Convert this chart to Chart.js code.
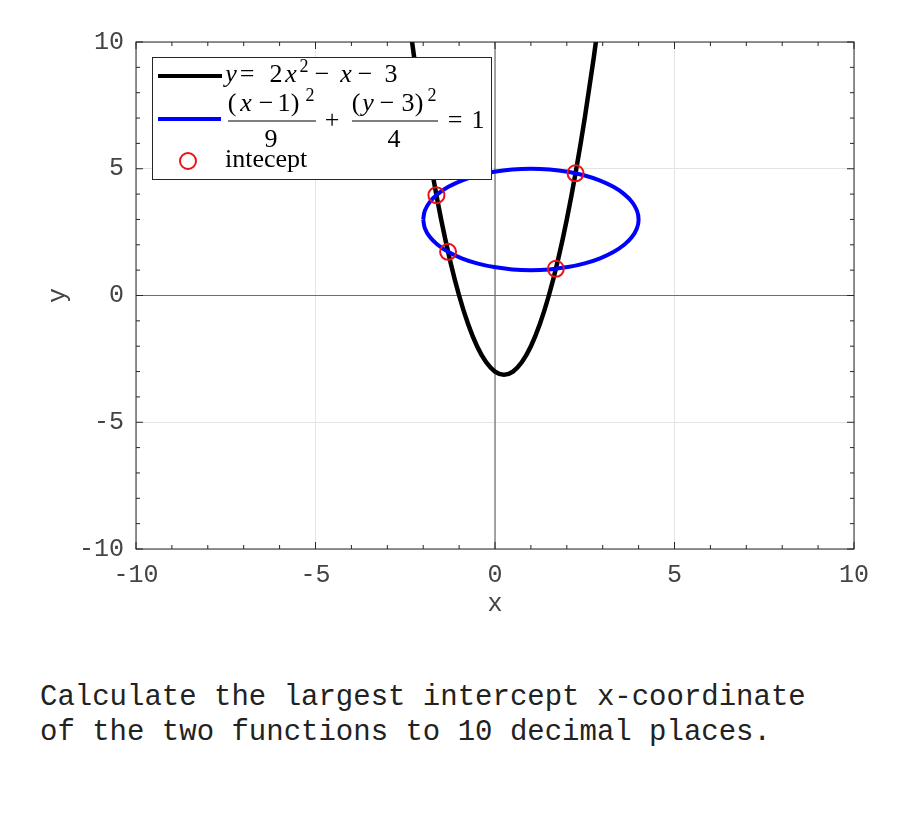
<!DOCTYPE html>
<html><head><meta charset="utf-8">
<script src="https://cdn.jsdelivr.net/npm/chart.js@4/dist/chart.umd.min.js"></script>
<style>
html,body{margin:0;padding:0;background:#fff;}
#wrap{position:relative;width:900px;height:825px;overflow:hidden;}
#c{position:absolute;left:0;top:0;}
#note{position:absolute;left:40px;top:680px;font:29px 'Liberation Mono','Courier New',monospace;line-height:35px;white-space:pre;color:#222;}
</style></head><body>
<div id="wrap"><canvas id="c" width="900" height="640"></canvas>
<div id="note">Calculate the largest intercept x-coordinate
of the two functions to 10 decimal places.</div></div>
<script>
// ---- data ----
const parabolaX = [-2.5,-2.25,-2,-1.75,-1.5,-1.25,-1,-0.75,-0.5,-0.25,0,0.25,0.5,0.75,1,1.25,1.5,1.75,2,2.25,2.5,2.75,3];
const parabolaY = [12,9.375,7,4.875,3,1.375,0,-1.125,-2,-2.625,-3,-3.125,-3,-2.625,-2,-1.125,0,1.375,3,4.875,7,9.375,12];
const ellipseX = [-2,-1.954,-1.819,-1.598,-1.298,-0.928,-0.5,-0.026,0.479,1,1.521,2.026,2.5,2.928,3.298,3.598,3.819,3.954,4,3.954,3.819,3.598,3.298,2.928,2.5,2.026,1.521,1,0.479,-0.026,-0.5,-0.928,-1.298,-1.598,-1.819,-1.954,-2];
const ellipseY = [3,2.653,2.316,2,1.714,1.468,1.268,1.121,1.03,1,1.03,1.121,1.268,1.468,1.714,2,2.316,2.653,3,3.347,3.684,4,4.286,4.532,4.732,4.879,4.97,5,4.97,4.879,4.732,4.532,4.286,4,3.684,3.347,3];
const interceptX = [-1.632,-1.307,1.695,2.243];
const interceptY = [3.959,1.721,1.053,4.82];
const xTickValues = [-10,-5,0,5,10];
const xTickLabels = ['-10','-5','0','5','10'];
const yTickValues = [-10,-5,0,5,10];
const yTickLabels = ['-10','-5','0','5','10'];
const minorValues = [-10,-9,-8,-7,-6,-5,-4,-3,-2,-1,0,1,2,3,4,5,6,7,8,9,10];
const seriesNames = ['intecept','ellipse','parabola'];

const zip = (xs, ys) => xs.map((x,i)=>({x:x, y:ys[i]}));
const MONO = "'Liberation Mono','Courier New',monospace";

const framePlugin = {
  id:'frame',
  beforeDatasetsDraw(chart){
    const {ctx, chartArea:a, scales:{x,y}} = chart;
    ctx.save();
    ctx.strokeStyle = '#6e6e6e'; ctx.lineWidth = 1.2;
    const px = x.getPixelForValue(0), py = y.getPixelForValue(0);
    ctx.beginPath(); ctx.moveTo(px, a.top); ctx.lineTo(px, a.bottom); ctx.stroke();
    ctx.beginPath(); ctx.moveTo(a.left, py); ctx.lineTo(a.right, py); ctx.stroke();
    ctx.restore();
  },
  afterDatasetsDraw(chart){
    const {ctx, chartArea:a, scales:{x,y}} = chart;
    ctx.save();
    ctx.strokeStyle = '#262626'; ctx.lineWidth = 1;
    minorValues.forEach(v=>{
      const len = (v % 5 === 0) ? 7 : 4;
      const px = x.getPixelForValue(v), py = y.getPixelForValue(v);
      ctx.beginPath();
      ctx.moveTo(px, a.bottom); ctx.lineTo(px, a.bottom-len);
      ctx.moveTo(px, a.top); ctx.lineTo(px, a.top+len);
      ctx.moveTo(a.left, py); ctx.lineTo(a.left+len, py);
      ctx.moveTo(a.right, py); ctx.lineTo(a.right-len, py);
      ctx.stroke();
    });
    ctx.strokeRect(a.left, a.top, a.right-a.left, a.bottom-a.top);
    ctx.restore();
  }
};

const legendPlugin = {
  id:'mathLegend',
  afterDraw(chart){
    const ctx = chart.ctx;
    const ds = chart.data.datasets;
    const R = "26px 'Liberation Serif','Times New Roman',serif";
    const I = "italic 26px 'Liberation Serif','Times New Roman',serif";
    const S = "18px 'Liberation Serif','Times New Roman',serif";
    const M = '\u2212';
    function tok(s, cx, by, f){ ctx.font = f; ctx.fillText(s, cx, by); }
    ctx.save();
    ctx.fillStyle = '#fff'; ctx.fillRect(152.5, 57.5, 339, 122);
    ctx.strokeStyle = '#262626'; ctx.lineWidth = 1; ctx.strokeRect(152.5, 57.5, 339, 122);
    // line samples
    ctx.lineWidth = 4;
    ctx.strokeStyle = ds[2].borderColor;
    ctx.beginPath(); ctx.moveTo(158, 76); ctx.lineTo(222, 76); ctx.stroke();
    ctx.strokeStyle = ds[1].borderColor;
    ctx.beginPath(); ctx.moveTo(158, 119); ctx.lineTo(221, 119); ctx.stroke();
    ctx.strokeStyle = ds[0].pointBorderColor; ctx.lineWidth = 2;
    ctx.beginPath(); ctx.arc(188, 161, 8, 0, Math.PI*2); ctx.stroke();
    // texts
    ctx.fillStyle = '#000'; ctx.textAlign = 'center'; ctx.textBaseline = 'alphabetic';
    // y = 2x^2 - x - 3
    tok('y', 231, 82, I); tok('=', 247, 82, R); tok('2', 276, 82, R); tok('x', 291, 82, I);
    tok('2', 304, 72, S); tok(M, 322, 82, R); tok('x', 346, 82, I); tok(M, 365, 82, R); tok('3', 391, 82, R);
    // (x-1)^2/9 + (y-3)^2/4 = 1
    tok('(', 232, 111, R); tok('x', 246, 111, I); tok(M, 266, 111, R); tok('1', 284, 111, R); tok(')', 295, 111, R);
    tok('2', 310, 101, S);
    tok('9', 271, 147, R);
    tok('+', 332, 128, R);
    tok('(', 356, 111, R); tok('y', 368, 111, I); tok(M, 387, 111, R); tok('3', 408, 111, R); tok(')', 419, 111, R);
    tok('2', 432, 101, S);
    tok('4', 394, 147, R);
    tok('=', 455, 128, R); tok('1', 478, 128, R);
    ctx.lineWidth = 1.2; ctx.strokeStyle = '#000';
    ctx.beginPath(); ctx.moveTo(228, 121); ctx.lineTo(316, 121); ctx.moveTo(352, 121); ctx.lineTo(438, 121); ctx.stroke();
    ctx.textAlign = 'left';
    tok(seriesNames[0], 225, 167, R);
    ctx.restore();
  }
};

new Chart(document.getElementById('c'), {
  type: 'scatter',
  data: {
    datasets: [
      { label: seriesNames[0], data: zip(interceptX, interceptY), showLine:false, pointRadius:8, pointBorderWidth:2,
        pointBorderColor:'rgb(232,18,24)', pointBackgroundColor:'rgba(0,0,0,0)', order:0, clip:0 },
      { label: seriesNames[1], data: zip(ellipseX, ellipseY), showLine:true, pointRadius:0, borderColor:'#0000ff',
        borderWidth:4, tension:0.4, order:1, clip:0, borderCapStyle:'butt' },
      { label: seriesNames[2], data: zip(parabolaX, parabolaY), showLine:true, pointRadius:0, borderColor:'#000000',
        borderWidth:4.5, cubicInterpolationMode:'monotone', order:2, clip:0 }
    ]
  },
  options: {
    responsive:false, animation:false, events:[],
    layout:{ padding:{ top:42, right:46, left:0, bottom:0 } },
    plugins:{ legend:{display:false}, tooltip:{enabled:false} },
    scales:{
      x:{ type:'linear', position:'bottom', min:-10, max:10,
        afterBuildTicks: s => { s.ticks = xTickValues.map(v=>({value:v})); },
        afterFit: s => { s.height = 91; },
        ticks:{ padding:11, color:'#444', font:{family:MONO, size:25}, maxRotation:0, autoSkip:false,
          callback: v => xTickLabels[xTickValues.indexOf(v)] },
        grid:{ color:'#e4e4e4', lineWidth:1, drawTicks:false }, border:{display:false},
        title:{ display:true, text:'x', color:'#444', font:{family:MONO, size:25}, padding:{top:0, bottom:21} } },
      y:{ type:'linear', position:'left', min:-10, max:10,
        afterBuildTicks: s => { s.ticks = yTickValues.map(v=>({value:v})); },
        afterFit: s => { s.width = 136; },
        ticks:{ padding:12, color:'#444', font:{family:MONO, size:25}, autoSkip:false,
          callback: v => yTickLabels[yTickValues.indexOf(v)] },
        grid:{ color:'#e4e4e4', lineWidth:1, drawTicks:false }, border:{display:false},
        title:{ display:true, text:'y', color:'#444', font:{family:MONO, size:25}, padding:{top:43, bottom:0} } }
    }
  },
  plugins:[framePlugin, legendPlugin]
});
</script>
</body></html>
